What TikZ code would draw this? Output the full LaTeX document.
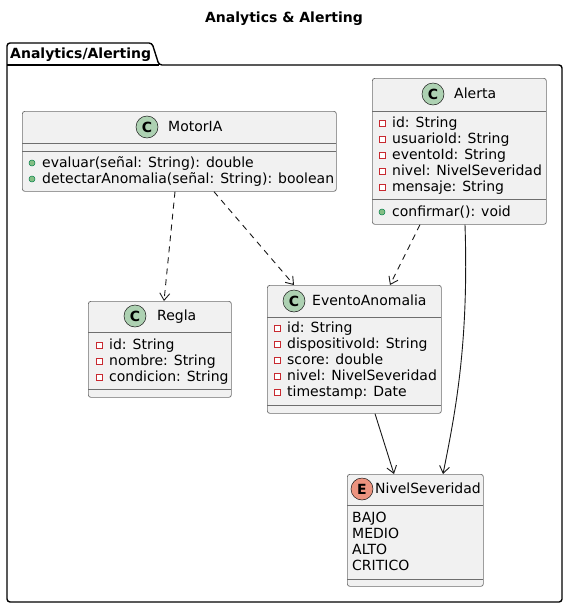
\documentclass[tikz,border=0pt]{standalone}
\usepackage{fontspec}
\setmainfont{DejaVu Sans}
\usetikzlibrary{arrows.meta,calc}
\definecolor{boxfill}{HTML}{F1F1F1}
\definecolor{boxline}{HTML}{181818}
\definecolor{boxedge}{HTML}{6E6E6E}
\definecolor{classC}{HTML}{ADD1B2}
\definecolor{enumE}{HTML}{EB937F}
\definecolor{privred}{HTML}{C82930}
\definecolor{pubfill}{HTML}{84BE84}
\definecolor{publine}{HTML}{038048}
\tikzset{
  cbox/.style={draw=boxedge, fill=boxfill, line width=0.7pt, rounded corners=2.5pt, inner sep=0pt, anchor=north west},
  txt/.style={font=\fontsize{14}{16}\selectfont, anchor=west, inner sep=0pt, text height=11pt, text depth=3pt},
  sep/.style={draw=boxedge, line width=0.7pt},
  privmark/.style={draw=privred, fill=white, line width=0.7pt, minimum size=6pt, inner sep=0pt, rectangle},
  pubmark/.style={draw=publine, fill=pubfill, line width=0.5pt, minimum size=6pt, inner sep=0pt, circle},
  cmark/.style={circle, draw=boxline, line width=0.5pt, fill=classC, minimum size=22pt, inner sep=0pt, font=\bfseries\fontsize{14}{14}\selectfont},
  emark/.style={cmark, fill=enumE},
  pkg/.style={draw=black, line width=1.4pt},
  dep/.style={draw=boxline, line width=0.9pt, dash pattern=on 6pt off 5pt, -{Straight Barb[length=7pt,width=10pt,line width=0.9pt]}},
  assoc/.style={draw=boxline, line width=0.9pt, -{Straight Barb[length=7pt,width=10pt,line width=0.9pt]}},
}
\newcommand\rowpriv[3]{\node[privmark] at (#1,#2) {}; \node[txt] at (#1+10,#2) {#3};}
\newcommand\rowpub[3]{\node[pubmark] at (#1,#2) {}; \node[txt] at (#1+10,#2) {#3};}
\begin{document}
\begin{tikzpicture}[x=1pt,y=-1pt]
\useasboundingbox (0,0) rectangle (568,608);
% title
\node[font=\bfseries\fontsize{14}{16}\selectfont, inner sep=0pt] (title) at (284,19) {Analytics \& Alerting};
% package
\draw[pkg, rounded corners=3pt] (7,43) -- (152,43) -- (159,65) -- (562,65) -- (562,602) -- (7,602) -- cycle;
\draw[pkg] (7,65) -- (159,65);
\node[txt, font=\bfseries\fontsize{14}{16}\selectfont] (pkglabel) at (10,54) {Analytics/Alerting};

% MotorIA
\node[cbox, minimum width=314pt, minimum height=80pt] (motor) at (22,111) {};
\node[cmark] (motorC) at (147,127) {C};
\node[txt] (motorT) at (168,127) {MotorIA};
\draw[sep] (22,143) -- (336,143);
\draw[sep] (22,151) -- (336,151);
\rowpub{32}{163}{evaluar(señal: String): double}
\rowpub{32}{179}{detectarAnomalia(señal: String): boolean}

% Regla
\node[cbox, minimum width=143pt, minimum height=96pt] (regla) at (88,301) {};
\node[cmark] (reglaC) at (135,316) {C};
\node[txt] (reglaT) at (157,316) {Regla};
\draw[sep] (88,332) -- (231,332);
\rowpriv{99}{345}{id: String}
\rowpriv{99}{361}{nombre: String}
\rowpriv{99}{377}{condicion: String}
\draw[sep] (88,389) -- (231,389);

% EventoAnomalia
\node[cbox, minimum width=174pt, minimum height=128pt] (evento) at (267,285) {};
\node[cmark] (eventoC) at (294,301) {C};
\node[txt] (eventoT) at (312,301) {EventoAnomalia};
\draw[sep] (267,317) -- (441,317);
\rowpriv{277}{328}{id: String}
\rowpriv{277}{344}{dispositivoId: String}
\rowpriv{277}{360}{score: double}
\rowpriv{277}{376}{nivel: NivelSeveridad}
\rowpriv{277}{392}{timestamp: Date}
\draw[sep] (267,405) -- (441,405);

% Alerta
\node[cbox, minimum width=174pt, minimum height=146pt] (alerta) at (372,78) {};
\node[cmark] (alertaC) at (433,94) {C};
\node[txt] (alertaT) at (454,94) {Alerta};
\draw[sep] (372,111) -- (546,111);
\rowpriv{382}{123}{id: String}
\rowpriv{382}{139}{usuarioId: String}
\rowpriv{382}{155}{eventoId: String}
\rowpriv{382}{171}{nivel: NivelSeveridad}
\rowpriv{382}{187}{mensaje: String}
\draw[sep] (372,199) -- (546,199);
\rowpub{382}{212}{confirmar(): void}

% NivelSeveridad
\node[cbox, minimum width=136pt, minimum height=112pt] (nivel) at (347,474) {};
\node[emark] (nivelE) at (362,489) {E};
\node[txt] (nivelT) at (375,489) {NivelSeveridad};
\draw[sep] (347,505) -- (483,505);
\node[txt] (v1) at (352,518) {BAJO};
\node[txt] (v2) at (352,534) {MEDIO};
\node[txt] (v3) at (352,550) {ALTO};
\node[txt] (v4) at (352,566) {CRITICO};
\draw[sep] (347,579) -- (483,579);

% connectors
\draw[dep] ($(motor.south west)+(153,0)$) -- ($(regla.north west)+(76,0)$);
\draw[dep] ($(motor.south west)+(192,0)$) -- ($(evento.north west)+(27,0)$);
\draw[dep] ($(alerta.south west)+(48,0)$) -- ($(evento.north west)+(123,0)$);
\draw[assoc] ($(evento.south west)+(108,0)$) -- ($(nivel.north west)+(47,0)$);
\draw[assoc] ($(alerta.south west)+(93,0)$) .. controls ($(alerta.south west)+(97,120)$) and ($(nivel.north west)+(108,-60)$) .. ($(nivel.north west)+(96,0)$);
\end{tikzpicture}
\end{document}
